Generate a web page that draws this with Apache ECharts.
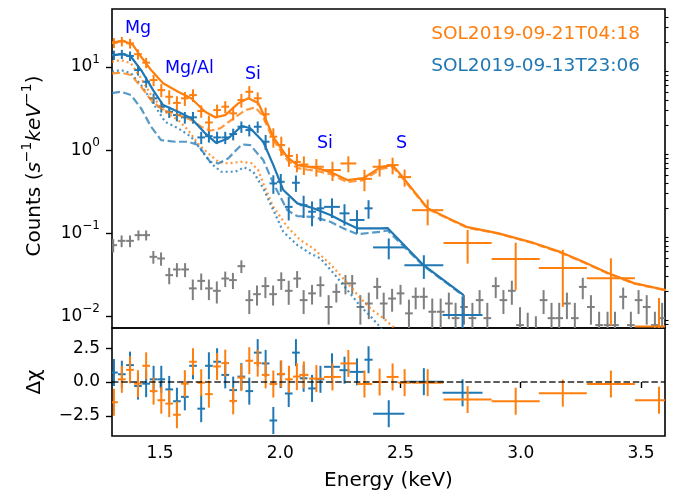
<!DOCTYPE html>
<html><head><meta charset="utf-8">
<script src="https://cdn.jsdelivr.net/npm/echarts@6/dist/echarts.min.js"></script>
<style>html,body{margin:0;padding:0;background:#fff}#c{width:675px;height:494px}</style>
</head><body><div id="c"></div>
<script>
// ---------------- DATA ----------------
// Flare 1 (SOL2019-09-21T04:18, orange): bin centre (keV), half width (keV), rate, 1-sigma error
const orangeE = [1.308,1.341,1.375,1.408,1.442,1.473,1.505,1.538,1.570,1.603,1.637,1.671,1.703,1.737,1.771,1.804,1.838,1.871,1.906,1.939,1.971,2.004,2.036,2.069,2.098,2.150,2.217,2.283,2.350,2.413,2.467,2.517,2.613,2.779,2.979,3.175,3.375,3.575];
const orangeHW = [0.016,0.016,0.016,0.016,0.016,0.016,0.016,0.016,0.016,0.016,0.016,0.016,0.016,0.016,0.016,0.016,0.016,0.016,0.016,0.016,0.016,0.016,0.016,0.016,0.019,0.031,0.035,0.033,0.031,0.029,0.025,0.027,0.065,0.1,0.1,0.1,0.1,0.1];
const orangeRate = [19.6,20.4,19.3,14.3,11.3,6.97,5.28,4.39,3.7,4.2,4.6,2.95,2.15,3.03,3.33,2.77,4.0,5.04,4.2,2.7,1.45,1.15,0.85,0.72,0.67,0.63,0.574,0.69,0.45,0.63,0.66,0.473,0.189,0.0759,0.0487,0.0379,0.0287,0.0075];
const orangeErr = [2.7,2.7,2.6,2.0,1.6,1.1,0.95,0.85,0.75,0.8,0.8,0.5,0.45,0.5,0.55,0.5,0.75,0.85,0.75,0.55,0.38,0.3,0.22,0.18,0.17,0.15,0.15,0.15,0.13,0.15,0.15,0.11,0.065,0.033,0.028,0.025,0.021,0.009];
const orangeResid = [-1.5,0.2,0.9,-0.125,1.2,-0.675,-1.35,-1.6,-2.425,-0.125,1.5,-0.05,-0.9,1.15,1.4,-1.4,0.325,1.575,1.4,0.525,-0.15,0.6,0.2,0.4,0.525,0.25,0.375,1.375,-0.15,0,0.375,-0.05,-0.05,-1.3,-1.425,-0.825,-0.15,-1.35];

// Flare 2 (SOL2019-09-13T23:06, blue)
const blueE = [1.308,1.341,1.375,1.408,1.442,1.473,1.505,1.538,1.570,1.603,1.637,1.671,1.703,1.737,1.771,1.804,1.838,1.871,1.906,1.939,1.971,2.002,2.035,2.065,2.097,2.132,2.167,2.215,2.267,2.319,2.367,2.451,2.597,2.758];
const blueHW = [0.016,0.016,0.016,0.016,0.016,0.016,0.016,0.016,0.016,0.016,0.016,0.016,0.016,0.016,0.016,0.016,0.016,0.016,0.016,0.016,0.016,0.016,0.016,0.016,0.016,0.016,0.016,0.033,0.021,0.031,0.017,0.065,0.081,0.083];
const blueRate = [13.95,14.3,13.6,9.2,6.65,4.2,3.33,2.89,2.64,2.48,2.48,1.42,1.47,1.42,1.42,1.56,1.91,1.74,1.91,1.26,0.397,0.415,0.207,0.404,0.217,0.181,0.199,0.207,0.173,0.144,0.199,0.0673,0.0411,0.0103];
const blueErr = [1.8,1.8,1.8,1.3,1.0,0.6,0.5,0.45,0.42,0.4,0.4,0.24,0.24,0.24,0.24,0.25,0.3,0.28,0.3,0.26,0.1,0.1,0.065,0.09,0.065,0.06,0.06,0.055,0.05,0.045,0.05,0.019,0.013,0.007];
const blueResid = [0.7,0.575,1.25,-0.3,-0.125,0.2,0.2,-0.55,-1.425,-1.1,1.2,-1.975,1.2,1.5,0.525,-0.6,0.4,-0.675,2.175,1.375,-2.85,0.575,-0.85,2.175,0.275,-0.475,0.2,1.125,0.875,0.75,1.65,-2.35,0.025,-0.8];

// Background (grey)
const bkgE = [1.305,1.340,1.375,1.410,1.442,1.472,1.504,1.538,1.570,1.604,1.636,1.671,1.703,1.736,1.771,1.803,1.838,1.871,1.903,1.938,1.970,2.004,2.035,2.070,2.097,2.132,2.167,2.201,2.233,2.271,2.299,2.333,2.368,2.403,2.430,2.465,2.500,2.535,2.563,2.597,2.632,2.667,2.701,2.729,2.764,2.799,2.829,2.861,2.896,2.928,2.963,2.997,3.029,3.063,3.095,3.128,3.160,3.192,3.225,3.258,3.292,3.326,3.361,3.392,3.426,3.458,3.490,3.524,3.558,3.588];
const bkgRate = [0.0716,0.0807,0.0807,0.0946,0.0946,0.0518,0.0495,0.0312,0.0365,0.0365,0.0216,0.0266,0.0216,0.0202,0.0284,0.0272,0.040,0.0156,0.0184,0.023,0.0184,0.0272,0.0202,0.0284,0.0156,0.0188,0.0236,0.0129,0.0196,0.0248,0.0248,0.0129,0.0142,0.0225,0.0142,0.0163,0.0188,0.0108,0.0171,0.0171,0.0113,0.0113,0.0142,0.00946,0.0129,0.00946,0.0156,0.00946,0.023,0.0156,0.0202,0.0078,0.006,0.005,0.0156,0.00946,0.00946,0.0142,0.00946,0.0225,0.0129,0.0078,0.0078,0.0078,0.0171,0.0078,0.0156,0.0129,0.0078,0.00946];
const bkgErr = [0.013,0.013,0.013,0.013,0.013,0.009,0.009,0.007,0.007,0.007,0.006,0.006,0.006,0.006,0.006,0.006,0.007,0.005,0.005,0.0065,0.005,0.0065,0.0065,0.0065,0.005,0.005,0.0065,0.005,0.005,0.0065,0.0065,0.005,0.005,0.0065,0.005,0.005,0.005,0.005,0.005,0.005,0.005,0.005,0.005,0.005,0.005,0.005,0.005,0.005,0.0065,0.005,0.0065,0.005,0.005,0.005,0.005,0.005,0.005,0.005,0.005,0.0065,0.005,0.0035,0.0035,0.0035,0.005,0.0035,0.005,0.005,0.0035,0.005];
const bkgHalfWidth = 0.016;

// Model curves [keV, rate]
const orangeTotal = [[1.30,19.7],[1.346,20.7],[1.3875,18.4],[1.421,13.3],[1.4625,9.2],[1.5125,6.37],[1.575,5.04],[1.629,4.20],[1.6875,2.89],[1.729,2.48],[1.771,2.64],[1.825,3.65],[1.867,4.20],[1.908,3.68],[1.9375,2.43],[1.971,1.43],[2.029,0.824],[2.071,0.659],[2.154,0.607],[2.208,0.543],[2.279,0.435],[2.346,0.46],[2.417,0.624],[2.467,0.659],[2.5125,0.46],[2.6125,0.2],[2.696,0.152],[2.779,0.118],[2.904,0.1],[3.042,0.078],[3.167,0.059],[3.2625,0.0448],[3.3625,0.033],[3.471,0.025],[3.604,0.0206]];
const orangeDashed = [[1.30,8.4],[1.3375,8.54],[1.379,8.01],[1.421,5.79],[1.4625,4.0],[1.5125,3.03],[1.575,2.64],[1.629,2.30],[1.671,1.91],[1.708,1.71],[1.75,1.83],[1.796,2.30],[1.854,3.03],[1.896,3.27],[1.925,2.64],[1.971,1.32],[2.029,0.759],[2.071,0.607],[2.154,0.558],[2.208,0.514],[2.279,0.411],[2.346,0.435],[2.417,0.59],[2.467,0.63],[2.5125,0.445],[2.6125,0.196],[2.696,0.15],[2.779,0.116],[2.904,0.099],[3.042,0.077],[3.167,0.058],[3.2625,0.0442],[3.3625,0.0326],[3.471,0.0247],[3.604,0.0204]];
const orangeDotted = [[1.30,11.6],[1.3375,12.1],[1.379,11.1],[1.421,7.31],[1.4625,4.60],[1.521,2.89],[1.575,2.30],[1.6167,1.74],[1.658,1.20],[1.70,0.912],[1.742,0.723],[1.783,0.691],[1.8375,0.723],[1.879,0.697],[1.908,0.574],[1.929,0.397],[1.971,0.207],[2.029,0.119],[2.083,0.0824],[2.1375,0.0654],[2.208,0.0423],[2.279,0.025],[2.333,0.0165],[2.383,0.0118],[2.429,0.00946],[2.471,0.00737],[2.508,0.00558]];
const blueTotal = [[1.30,13.95],[1.346,14.3],[1.379,13.3],[1.421,9.2],[1.471,5.28],[1.5125,3.49],[1.575,2.89],[1.629,2.41],[1.6875,1.59],[1.733,1.22],[1.783,1.38],[1.8396,1.95],[1.875,1.83],[1.929,1.26],[1.971,0.659],[2.0125,0.33],[2.071,0.228],[2.1375,0.199],[2.208,0.165],[2.2625,0.137],[2.321,0.114],[2.417,0.114],[2.446,0.115],[2.596,0.0411],[2.7625,0.0179]];
const blueDashed = [[1.30,4.86],[1.3375,5.04],[1.379,4.60],[1.421,3.18],[1.4625,1.91],[1.504,1.32],[1.5625,1.26],[1.6167,1.26],[1.658,1.15],[1.708,0.723],[1.742,0.691],[1.783,0.794],[1.8396,1.17],[1.875,1.15],[1.929,0.759],[1.971,0.397],[2.029,0.189],[2.071,0.160],[2.1375,0.157],[2.208,0.137],[2.2625,0.114],[2.321,0.0973],[2.417,0.1037],[2.446,0.1075],[2.596,0.0402],[2.7625,0.0176]];
const blueDotted = [[1.30,8.78],[1.3375,9.2],[1.379,8.40],[1.421,6.07],[1.4625,4.0],[1.521,2.19],[1.575,1.83],[1.629,1.45],[1.671,1.0],[1.7125,0.691],[1.754,0.548],[1.8125,0.548],[1.85,0.619],[1.8875,0.548],[1.929,0.346],[1.971,0.189],[2.0125,0.1037],[2.071,0.0716],[2.125,0.0569],[2.1667,0.0495],[2.221,0.033],[2.279,0.0206],[2.333,0.0132],[2.375,0.01],[2.408,0.0078],[2.4417,0.0059]];

// Ticks
const xTicks = [1.5, 2.0, 2.5, 3.0, 3.5];
const yMajorTicks = [0.01, 0.1, 1, 10];
const yMinorTicks = [0.008,0.009,0.02,0.03,0.04,0.05,0.06,0.07,0.08,0.09,0.2,0.3,0.4,0.5,0.6,0.7,0.8,0.9,2,3,4,5,6,7,8,9,20,30,40];
const residTicks = [-2.5, 0, 2.5];

// ---------------- CHART ----------------
const FONT = 'DejaVu Sans';
const ORANGE = '#ff7f0e', BLUE = '#1f77b4', GREY = '#7f7f7f';
const chart = echarts.init(document.getElementById('c'), null, {renderer: 'canvas'});

function errRender(color, logY) {
  return function (params, api) {
    const x = api.value(0), y = api.value(1), xe = api.value(2), ye = api.value(3);
    let lo = y - ye; if (logY && lo <= 0) lo = 1e-6;
    const a = api.coord([x - xe, y]), b = api.coord([x + xe, y]);
    const c = api.coord([x, y + ye]), d = api.coord([x, lo]);
    const st = {stroke: color, lineWidth: 2};
    return {type: 'group', children: [
      {type: 'line', shape: {x1: a[0], y1: a[1], x2: b[0], y2: b[1]}, style: st},
      {type: 'line', shape: {x1: c[0], y1: c[1], x2: d[0], y2: d[1]}, style: st}
    ]};
  };
}
function errSeries(data, color, xi, yi, logY, z) {
  return {type: 'custom', xAxisIndex: xi, yAxisIndex: yi, renderItem: errRender(color, logY),
    data: data, encode: {x: 0, y: 1}, clip: true, silent: true, z: z};
}
function lineSeries(data, color, type, opacity, z) {
  return {type: 'line', xAxisIndex: 0, yAxisIndex: 0, data: data, showSymbol: false, symbol: 'none',
    clip: true, silent: true, z: z,
    lineStyle: {color: color, width: 2.2, type: type, opacity: opacity, cap: 'butt'}};
}

const orangeData = orangeE.map((e, i) => [e, orangeRate[i], orangeHW[i], orangeErr[i]]);
const blueData = blueE.map((e, i) => [e, blueRate[i], blueHW[i], blueErr[i]]);
const bkgData = bkgE.map((e, i) => [e, bkgRate[i], bkgHalfWidth, bkgErr[i]]);
const orangeRes = orangeE.map((e, i) => [e, orangeResid[i], orangeHW[i], 1]);
const blueRes = blueE.map((e, i) => [e, blueResid[i], blueHW[i], 1]);

const supMinus = s => s.replace('-', '\u2212');
const tickFont = {fontFamily: FONT, fontSize: 17, color: '#000'};

const option = {
  backgroundColor: '#fff',
  animation: false,
  grid: [
    {left: 112, right: 10, top: 9, height: 319, show: true, borderColor: '#000', borderWidth: 1.6, backgroundColor: 'transparent'},
    {left: 112, right: 10, top: 328, height: 108, show: true, borderColor: '#000', borderWidth: 1.6, backgroundColor: 'transparent'}
  ],
  xAxis: [
    {type: 'value', gridIndex: 0, min: 1.3, max: 3.6, axisLine: {show: false}, axisTick: {show: false},
      axisLabel: {show: false}, splitLine: {show: false}},
    {type: 'value', gridIndex: 1, min: 1.3, max: 3.6, axisLine: {show: false}, splitLine: {show: false},
      axisTick: {show: true, customValues: xTicks, length: 6, lineStyle: {color: '#000', width: 1.4}},
      axisLabel: Object.assign({customValues: xTicks, margin: 9, formatter: v => v.toFixed(1)}, tickFont)}
  ],
  yAxis: [
    {type: 'log', logBase: 10, gridIndex: 0, min: 0.0072, max: 50, axisLine: {show: false}, splitLine: {show: false},
      axisTick: {show: true, customValues: yMajorTicks, length: 6, lineStyle: {color: '#000', width: 1.4}},
      axisLabel: {customValues: yMajorTicks, margin: 12,
        formatter: v => '{b|10}{s|' + supMinus(String(Math.round(Math.log10(v)))) + '}',
        rich: {b: {fontFamily: FONT, fontSize: 17, color: '#000', lineHeight: 26},
               s: {fontFamily: FONT, fontSize: 12, color: '#000', lineHeight: 12, verticalAlign: 'top'}}}},
    {type: 'log', logBase: 10, gridIndex: 0, min: 0.0072, max: 50, axisLine: {show: false}, splitLine: {show: false},
      axisTick: {show: true, customValues: yMinorTicks, length: 3.5, lineStyle: {color: '#000', width: 1.1}},
      axisLabel: {show: false}},
    {type: 'value', gridIndex: 1, min: -4, max: 4, axisLine: {show: false}, splitLine: {show: false},
      axisTick: {show: true, customValues: residTicks, length: 6, lineStyle: {color: '#000', width: 1.4}},
      axisLabel: Object.assign({customValues: residTicks, margin: 12, formatter: v => supMinus(v.toFixed(1))}, tickFont)}
  ],
  series: [
    errSeries(bkgData, GREY, 0, 0, true, 2),
    errSeries(blueData, BLUE, 0, 0, true, 2),
    errSeries(orangeData, ORANGE, 0, 0, true, 2),
    lineSeries(orangeDotted, ORANGE, [2, 3], 0.8, 3),
    lineSeries(blueDotted, BLUE, [2, 3], 0.8, 3),
    lineSeries(orangeDashed, ORANGE, [8, 3.5], 0.8, 3),
    lineSeries(blueDashed, BLUE, [8, 3.5], 0.75, 3),
    lineSeries(blueTotal, BLUE, 'solid', 1, 4),
    lineSeries(orangeTotal, ORANGE, 'solid', 1, 4),
    {type: 'line', xAxisIndex: 1, yAxisIndex: 2, data: [[1.3, 0], [3.6, 0]], showSymbol: false, symbol: 'none', silent: true, z: 4,
      lineStyle: {color: '#000', width: 1.6, type: [6.5, 2.8], opacity: 0.85}},
    errSeries(blueRes, BLUE, 1, 2, false, 3),
    errSeries(orangeRes, ORANGE, 1, 2, false, 3)
  ],
  graphic: [
    {type: 'text', x: 125, y: 28, style: {text: 'Mg', fill: '#0000ff', font: '17.5px "DejaVu Sans"', align: 'left', verticalAlign: 'middle'}},
    {type: 'text', x: 165, y: 68.3, style: {text: 'Mg/Al', fill: '#0000ff', font: '17.5px "DejaVu Sans"', align: 'left', verticalAlign: 'middle'}},
    {type: 'text', x: 245, y: 74.7, style: {text: 'Si', fill: '#0000ff', font: '17.5px "DejaVu Sans"', align: 'left', verticalAlign: 'middle'}},
    {type: 'text', x: 317, y: 143.7, style: {text: 'Si', fill: '#0000ff', font: '17.5px "DejaVu Sans"', align: 'left', verticalAlign: 'middle'}},
    {type: 'text', x: 396, y: 143.7, style: {text: 'S', fill: '#0000ff', font: '17.5px "DejaVu Sans"', align: 'left', verticalAlign: 'middle'}},
    {type: 'text', x: 640, y: 34.3, style: {text: 'SOL2019-09-21T04:18', fill: ORANGE, font: '18.5px "DejaVu Sans"', align: 'right', verticalAlign: 'middle'}},
    {type: 'text', x: 640, y: 66.3, style: {text: 'SOL2019-09-13T23:06', fill: BLUE, font: '18.5px "DejaVu Sans"', align: 'right', verticalAlign: 'middle'}},
    {type: 'text', x: 388.5, y: 481, style: {text: 'Energy (keV)', fill: '#000', font: '20px "DejaVu Sans"', align: 'center', verticalAlign: 'middle'}},
    {type: 'text', x: 35, y: 166, rotation: Math.PI / 2, style: {
      text: '{n|Counts (}{i|s}{s|\u22121}{i|keV}{s|\u22121}{n|)}', align: 'center', verticalAlign: 'middle',
      rich: {n: {fontFamily: FONT, fontSize: 20, fill: '#000', lineHeight: 30},
             i: {fontFamily: FONT, fontSize: 20, fontStyle: 'italic', fill: '#000', lineHeight: 30},
             s: {fontFamily: FONT, fontSize: 14, fill: '#000', lineHeight: 14, verticalAlign: 'top'}}}},
    {type: 'text', x: 35, y: 382, rotation: Math.PI / 2, style: {text: '\u0394\u03c7', fill: '#000', font: '20px "DejaVu Sans"', align: 'center', verticalAlign: 'middle'}}
  ]
};
chart.setOption(option);
</script></body></html>
